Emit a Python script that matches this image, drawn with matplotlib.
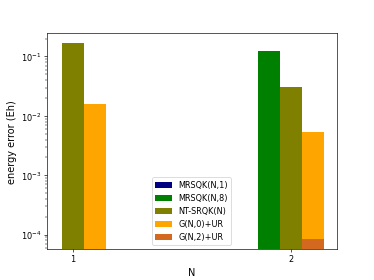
import matplotlib
matplotlib.use('Agg')
import matplotlib.pyplot as plt
import numpy as np

N = np.array([1, 2])
labels = ['MRSQK(N,1)', 'MRSQK(N,8)', 'NT-SRQK(N)', 'G(N,0)+UR', 'G(N,2)+UR']
colors = ['#000080', '#008000', '#808000', '#FFA500', '#D2691E']
offsets = [-0.2, -0.1, 0.0, 0.1, 0.1]
mrsqk1 = [np.nan, np.nan]
mrsqk8 = [np.nan, 0.125]
ntsrqk = [0.168, 0.0306]
g0ur = [0.016, 0.0054]
g2ur = [np.nan, 8.5e-5]
series = [mrsqk1, mrsqk8, ntsrqk, g0ur, g2ur]

fig, ax = plt.subplots(figsize=(6.4, 4.8), dpi=374/6.4)
for vals, lab, col, off in zip(series, labels, colors, offsets):
    ax.bar(N + off, vals, width=0.1, color=col, label=lab)

ax.set_yscale('log')
ax.set_ylim(5.7e-5, 0.247)
ax.set_xlim(0.88, 2.21)
ax.set_xticks(N)
ax.set_xlabel('N', fontsize=12)
ax.set_ylabel('energy error (Eh)', fontsize=12)
ax.legend(loc='lower center')
fig.savefig('out.png')
